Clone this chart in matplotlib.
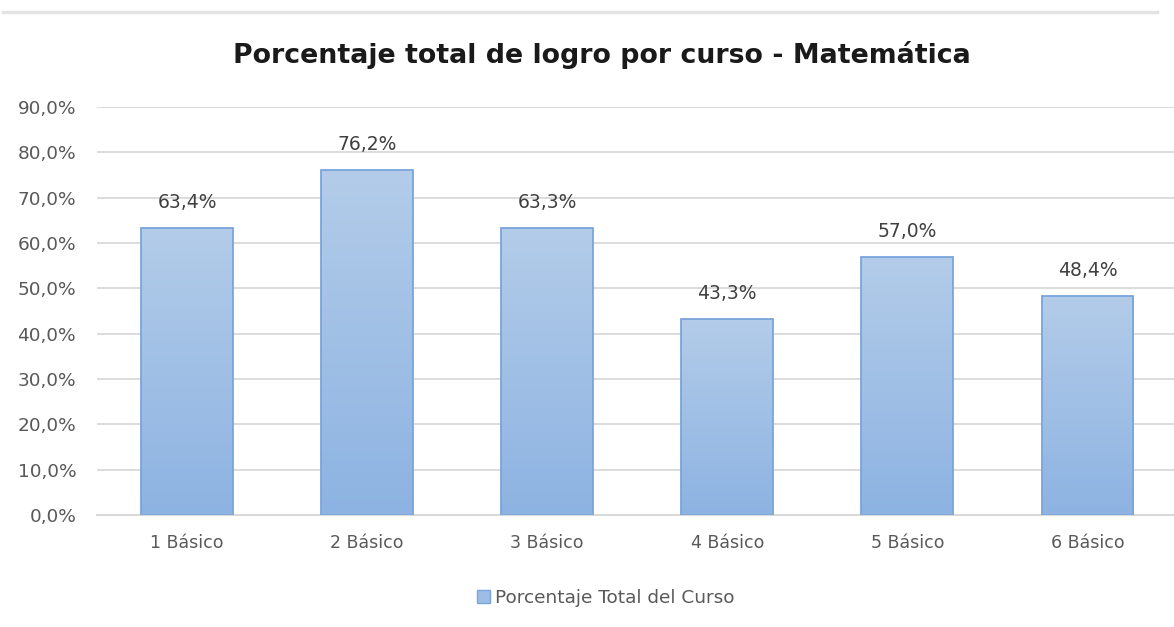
import matplotlib
matplotlib.use("Agg")
import matplotlib.pyplot as plt
import numpy as np
from matplotlib.colors import LinearSegmentedColormap
from matplotlib.lines import Line2D
from matplotlib.patches import Patch

categories = ["1 Básico", "2 Básico", "3 Básico", "4 Básico", "5 Básico", "6 Básico"]
values = [63.4, 76.2, 63.3, 43.3, 57.0, 48.4]
yticks = [0, 10, 20, 30, 40, 50, 60, 70, 80, 90]
title = "Porcentaje total de logro por curso - Matemática"
legend_label = "Porcentaje Total del Curso"

plt.rcParams['font.family'] = ['DejaVu Sans']

fig = plt.figure(figsize=(11.74, 6.27), dpi=100)
ax = fig.add_axes([97/1174, 1 - 515/627, 1 - 97/1174 + 0.003, (515 - 107)/627])

x = np.arange(len(categories))
bars = ax.bar(x, values, width=0.51, color='none', edgecolor='#79a5da', linewidth=1.3, zorder=3)

cmap = LinearSegmentedColormap.from_list('g', ['#8db3e2', '#b3cce9'])
grad = np.linspace(0, 1, 256).reshape(-1, 1)
for b in bars:
    bx, by = b.get_x(), b.get_y()
    w, h = b.get_width(), b.get_height()
    im = ax.imshow(grad, cmap=cmap, origin='lower', aspect='auto',
                   extent=[bx, bx + w, by, by + h], zorder=2)
    im.set_clip_path(b)

for xi, v in zip(x, values):
    ax.annotate(f"{v:.1f}%".replace('.', ','), (xi, v), xytext=(0, 11.5), textcoords='offset points',
                ha='center', va='bottom', fontsize=13.5, color='#404040')

ax.set_xlim(-0.5, len(categories) - 0.5)
ax.set_ylim(0, 90)
ax.set_yticks(yticks)
ax.set_yticklabels([f"{t:.1f}%".replace('.', ',') for t in yticks], fontsize=13.3, color='#595959')
ax.set_xticks(x)
ax.set_xticklabels(categories, fontsize=12.5, color='#595959')
ax.tick_params(axis='both', length=0)
ax.tick_params(axis='x', pad=14)
ax.tick_params(axis='y', pad=15)
ax.grid(axis='y', color='#dcdcdc', linewidth=1.4, zorder=0)
ax.set_axisbelow(True)
for s in ['top', 'right', 'left']:
    ax.spines[s].set_visible(False)
ax.spines['bottom'].set_color('#d9d9d9')
ax.spines['bottom'].set_linewidth(1.5)

fig.text(602/1174, 1 - 55/627, title, ha='center', va='center', fontsize=19.3, fontweight='bold', color='#1a1a1a')

handle = Patch(facecolor='#9dbde6', edgecolor='#79a5da')
fig.legend([handle], [legend_label], loc='center', bbox_to_anchor=(606/1174, 1 - 598/627),
           frameon=False, fontsize=13.3, labelcolor='#595959', handlelength=0.7, handleheight=0.7,
           handletextpad=0.3)

fig.add_artist(Line2D([3/1174, 1157/1174], [1 - 12/627, 1 - 12/627], color='#e3e3e3', linewidth=2.5))

fig.savefig("out.png", dpi=100)
